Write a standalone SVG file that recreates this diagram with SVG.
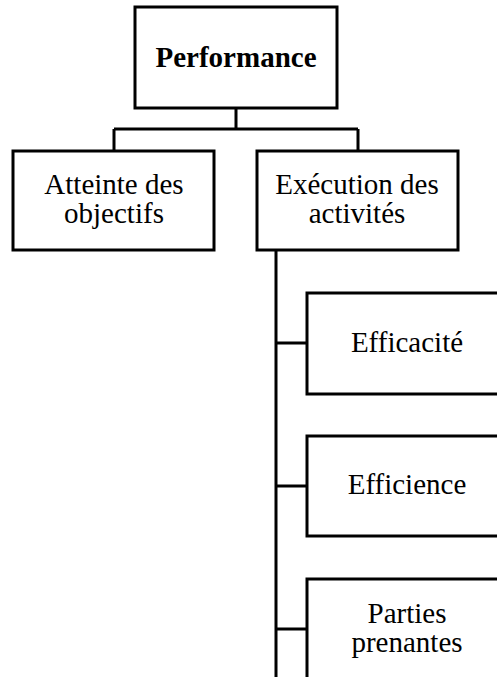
<svg xmlns="http://www.w3.org/2000/svg" width="497" height="677" viewBox="0 0 497 677">
<style>
.box{fill:#fff;stroke:#000;stroke-width:3}
.t{font-family:"Liberation Serif","Times New Roman",serif;font-size:29px;fill:#000;text-anchor:middle}
.b{font-weight:bold}
.c{fill:none;stroke:#000;stroke-width:3}
</style>
<rect width="497" height="677" fill="#fff"/>
<g id="connectors">
<path class="c" d="M236 108V129M114 129H358M114 129V151M358 129V151"/>
<path class="c" d="M276 250V677M276 343H307M276 486H307M276 629H307"/>
</g>
<g id="performance">
<rect class="box" x="135" y="7" width="202" height="101"/>
<text class="t b" x="236" y="67">Performance</text>
</g>
<g id="atteinte">
<rect class="box" x="13" y="151" width="201" height="99"/>
<text class="t" x="114" y="194">Atteinte des</text>
<text class="t" x="114" y="223">objectifs</text>
</g>
<g id="execution">
<rect class="box" x="257" y="151" width="201" height="99"/>
<text class="t" x="357" y="194">Exécution des</text>
<text class="t" x="357" y="223">activités</text>
</g>
<g id="efficacite">
<rect class="box" x="307" y="293" width="201" height="101"/>
<text class="t" x="407" y="352">Efficacité</text>
</g>
<g id="efficience">
<rect class="box" x="307" y="436" width="201" height="100"/>
<text class="t" x="407" y="494">Efficience</text>
</g>
<g id="parties">
<rect class="box" x="307" y="579" width="201" height="110"/>
<text class="t" x="407" y="623">Parties</text>
<text class="t" x="407" y="652">prenantes</text>
</g>
</svg>
